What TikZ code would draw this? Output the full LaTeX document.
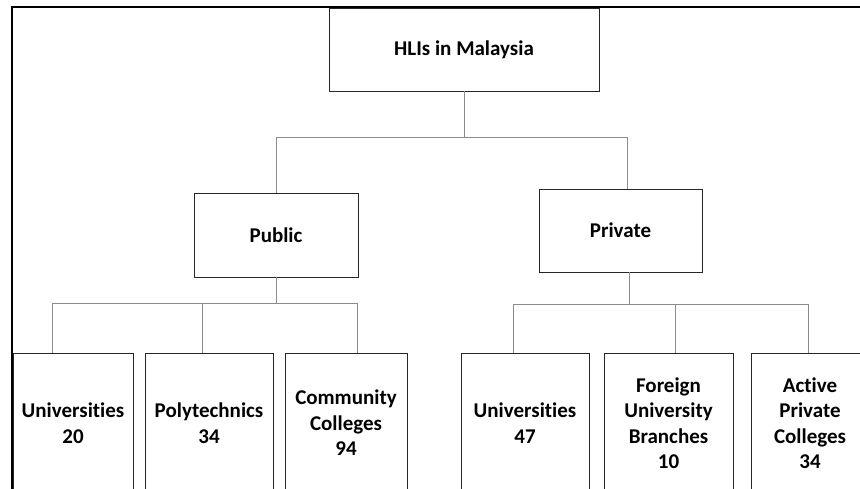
\documentclass[tikz,border=0pt]{standalone}
\usepackage{fontspec}
\setmainfont{Carlito}[Ligatures=NoCommon]
\usepackage{tikz}

\begin{document}
\begin{tikzpicture}[x=1pt, y=-1pt,
	box/.style={shape=rectangle, draw=black!85, line width=0.8pt, fill=white, align=center, inner sep=0pt, font=\fontsize{21}{25.5}\selectfont\bfseries},
	link/.style={draw=black!45, line width=0.9pt}]
	\clip (0, 0) rectangle (860, 489);
	\fill[white] (0, 0) rectangle (860, 489);
	\draw[line width=2.2pt] (12, 489) -- (12, 7) -- (860, 7);

	% top levels
	\node[box, minimum width=270pt, minimum height=83pt] (hli) at (464, 49.5) {HLIs in Malaysia};
	\node[box, minimum width=164pt, minimum height=84pt] (pub) at (276, 235) {Public};
	\node[box, minimum width=163pt, minimum height=83pt] (pri) at (620.5, 230.5) {Private};

	% bottom level
	\node[box, minimum width=120pt, minimum height=140pt] (pub1) at (73, 423)    {Universities\\20};
	\node[box, minimum width=128pt, minimum height=140pt] (pub2) at (209, 423)   {Polytechnics\\34};
	\node[box, minimum width=122pt, minimum height=140pt] (pub3) at (346, 423)   {Community\\Colleges\\94};
	\node[box, minimum width=128pt, minimum height=140pt] (pri1) at (525, 423)   {Universities\\47};
	\node[box, minimum width=129pt, minimum height=140pt] (pri2) at (668.5, 423) {Foreign\\University\\Branches\\10};
	\node[box, minimum width=118pt, minimum height=140pt] (pri3) at (810, 423)   {Active\\Private\\Colleges\\34};

	\coordinate (pubtop) at (276, 137);
	\coordinate (pritop) at (627, 137);
	\coordinate (pubstem) at (276, 303);
	\coordinate (pristem) at (629, 304);
	\coordinate (pb1) at (52, 303);
	\coordinate (pb2) at (202, 303);
	\coordinate (pb3) at (357, 303);
	\coordinate (rb1) at (513, 304);
	\coordinate (rb2) at (675, 304);
	\coordinate (rb3) at (808, 304);

	\draw[link] (hli.south) -- (hli.south |- pubtop);
	\draw[link] (pubtop) -- (pritop);
	\draw[link] (pubtop) -- (pub.north);
	\draw[link] (pritop) -- (pritop |- pri.north);

	\draw[link] (pub.south) -- (pubstem);
	\draw[link] (pb1) -- (pb3);
	\draw[link] (pristem |- pri.south) -- (pristem);
	\draw[link] (rb1) -- (rb3);
	\foreach \i in {1,2,3} {
		\draw[link] (pb\i) -- (pb\i |- pub\i.north);
		\draw[link] (rb\i) -- (rb\i |- pri\i.north);
	}
\end{tikzpicture}
\end{document}
